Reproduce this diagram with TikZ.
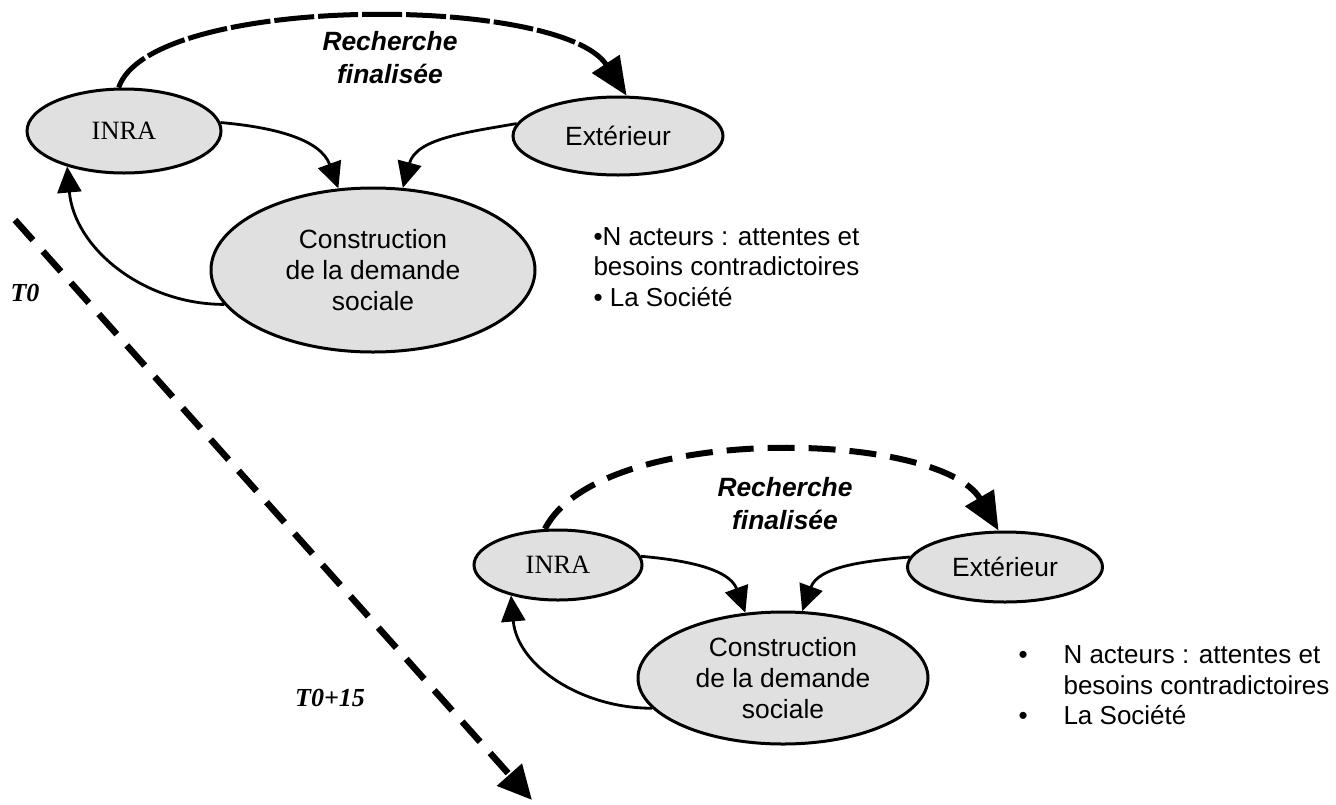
\documentclass[tikz,border=0pt]{standalone}
\usepackage{fontspec}
\setmainfont{Liberation Sans}
\newfontfamily\timesfont{Liberation Serif}
\usetikzlibrary{arrows.meta,shapes.geometric}

\begin{document}
\begin{tikzpicture}[
        x=1pt,y=1pt,
        mybulle/.style={ellipse,draw,line width=3pt,fill=black!12,inner sep=0pt,
            font=\fontsize{26.4}{31}\selectfont,align=center},
        mytitre/.style={font=\fontsize{26.4}{33}\selectfont\bfseries\itshape,align=center},
        myliste/.style={font=\fontsize{26}{30.5}\selectfont,align=left,anchor=west},
        mytemps/.style={font=\timesfont\fontsize{26}{30}\selectfont\bfseries\itshape},
        myfleche/.style={line width=2.8pt,-{Triangle[length=26pt,width=24pt]}},
        myarc/.style={line width=5pt,dash pattern=on 40pt off 4pt,-{Triangle[length=38pt,width=32pt]}},
        mytiret/.style={line width=6.5pt,dash pattern=on 27pt off 15pt,-{Triangle[length=34pt,width=32pt]}}
    ]
    \useasboundingbox (0,0) rectangle (1336,-804);
    \node[mybulle,minimum width=194pt,minimum height=84pt] (inraA) at (124,-131) {\timesfont INRA};
    \node[mybulle,minimum width=210pt,minimum height=78pt] (extA) at (618,-136) {Extérieur};
    \node[mybulle,minimum width=324pt,minimum height=164pt] (consA) at (373,-270) {Construction\\de la demande\\sociale};
    \node[mytitre] (rechA) at (390,-58) {Recherche\\finalisée};
    \node[myliste] (listeA) at (590,-267) {•N acteurs : attentes et\\besoins contradictoires\\• La Société};
    \node[mytemps] (tA) at (25,-293) {T0};
    \draw[myarc] (inraA.97) .. controls (150,6) and (560,6) .. (extA.78);
    \draw[myfleche] (inraA.5) to[out=-5,in=110] (consA.113);
    \draw[myfleche] (extA.173) to[out=190,in=75] (consA.70);
    \draw[myfleche] (consA.193) to[out=180,in=-85] (inraA.212);
    \node[mybulle,minimum width=168pt,minimum height=70pt] (inraB) at (558,-565) {\timesfont INRA};
    \node[mybulle,minimum width=195pt,minimum height=70pt] (extB) at (1005,-567) {Extérieur};
    \node[mybulle,minimum width=290pt,minimum height=132pt] (consB) at (783,-678) {Construction\\de la demande\\sociale};
    \node[mytitre] (rechB) at (785,-504) {Recherche\\finalisée};
    \node[myliste] (listeB) at (1015,-688) {\begin{tabular}{@{}p{45pt}@{}l@{}}•&N acteurs : attentes et\\&besoins contradictoires\\•&La Société\end{tabular}};
    \node[mytemps] (tB) at (330,-698) {T0+15};
    \draw[myarc,dash pattern=on 27pt off 14pt,line width=6pt] (inraB.110) .. controls (600,-422) and (940,-430) .. (extB.100);
    \draw[myfleche] (inraB.6) to[out=-5,in=110] (consB.120);
    \draw[myfleche] (extB.174) to[out=185,in=70] (consB.74);
    \draw[myfleche] (consB.193) to[out=180,in=-85] (inraB.213);
    \coordinate (debut) at (15,-220);
    \coordinate (fin) at (532,-800);
    \draw[mytiret] (debut) -- (fin);
\end{tikzpicture}
\end{document}
